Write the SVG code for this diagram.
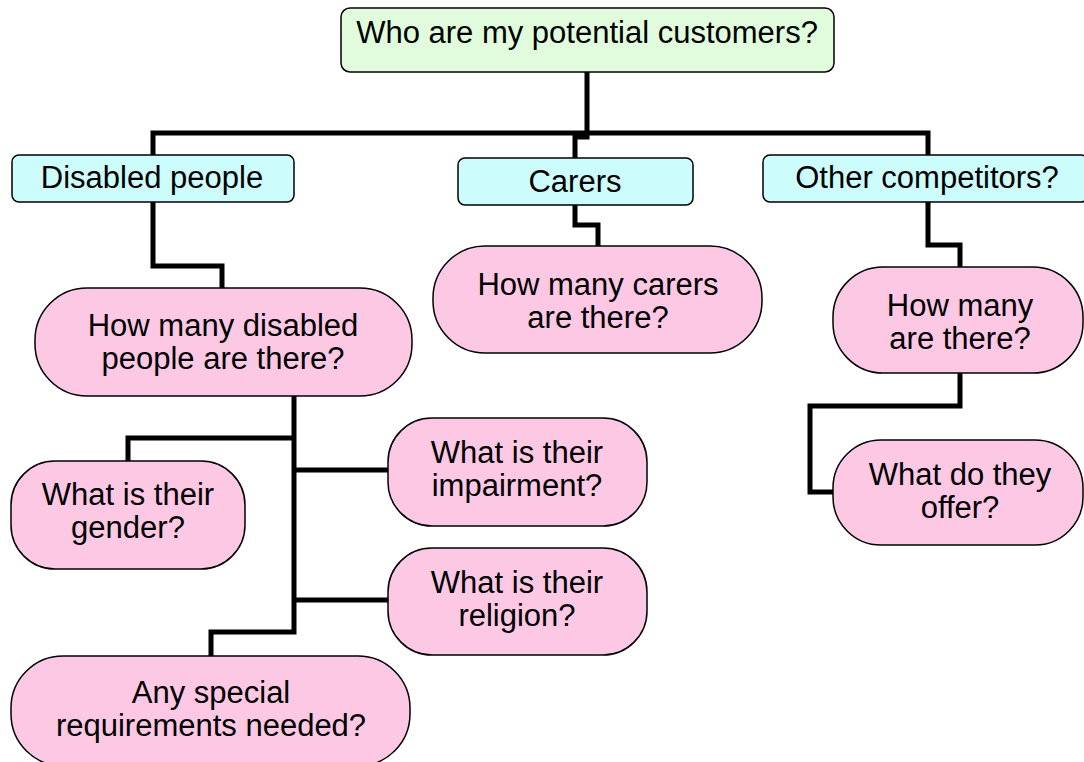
<svg xmlns="http://www.w3.org/2000/svg" width="1084" height="762" viewBox="0 0 1084 762">
<style>
text{font-family:"Liberation Sans",Arial,sans-serif;font-size:31px;fill:#000;text-anchor:middle}
.root{fill:#e0fcdc;stroke:#000;stroke-width:1.5}
.cat{fill:#ccfcfc;stroke:#000;stroke-width:1.5}
.q{fill:#fcc8e4;stroke:#000;stroke-width:1.5}
.conn path{fill:none;stroke:#000;stroke-width:5;stroke-linejoin:miter}
</style>
<rect width="1084" height="762" fill="#fff"/>
<g class="conn" id="connectors">
<path d="M587 72 V137 H575 V158"/>
<path d="M153 155 V133 H928 V155"/>
<path d="M575 205 V225 H598 V246"/>
<path d="M153 202 V266 H222 V288"/>
<path d="M928 202 V245 H960 V267"/>
<path d="M960 373 V406 H810 V492 H833"/>
<path d="M294 396 V632 H211 V656"/>
<path d="M294 438 H128 V461"/>
<path d="M294 470 H388"/>
<path d="M294 600 H388"/>
</g>
<g id="root"><rect class="root" x="341" y="8" width="493" height="64" rx="9"/><text x="587" y="43">Who are my potential customers?</text></g>
<g id="disabled"><rect class="cat" x="12" y="155" width="282" height="47" rx="7"/><text x="152" y="188">Disabled people</text></g>
<g id="carers"><rect class="cat" x="458" y="158" width="235" height="47" rx="7"/><text x="575" y="192">Carers</text></g>
<g id="competitors"><rect class="cat" x="763" y="155" width="325" height="47" rx="7"/><text x="927" y="188">Other competitors?</text></g>
<g id="howmanydisabled"><rect class="q" x="35" y="288" width="377" height="108" rx="52"/><text x="223" y="336">How many disabled</text><text x="223" y="369">people are there?</text></g>
<g id="howmanycarers"><rect class="q" x="433" y="246" width="329" height="107" rx="52"/><text x="598" y="295">How many carers</text><text x="598" y="328">are there?</text></g>
<g id="howmanycompetitors"><rect class="q" x="833" y="267" width="250" height="106" rx="50"/><text x="960" y="316">How many</text><text x="960" y="349">are there?</text></g>
<g id="offer"><rect class="q" x="833" y="440" width="250" height="105" rx="48"/><text x="960" y="485">What do they</text><text x="960" y="518">offer?</text></g>
<g id="gender"><rect class="q" x="11" y="461" width="234" height="108" rx="44"/><text x="128" y="505">What is their</text><text x="128" y="538">gender?</text></g>
<g id="impairment"><rect class="q" x="388" y="418" width="259" height="108" rx="44"/><text x="517" y="463">What is their</text><text x="517" y="496">impairment?</text></g>
<g id="religion"><rect class="q" x="388" y="548" width="259" height="107" rx="44"/><text x="517" y="593">What is their</text><text x="517" y="626">religion?</text></g>
<g id="special"><rect class="q" x="11" y="656" width="399" height="110" rx="52"/><text x="211" y="703">Any special</text><text x="211" y="736">requirements needed?</text></g>
</svg>
